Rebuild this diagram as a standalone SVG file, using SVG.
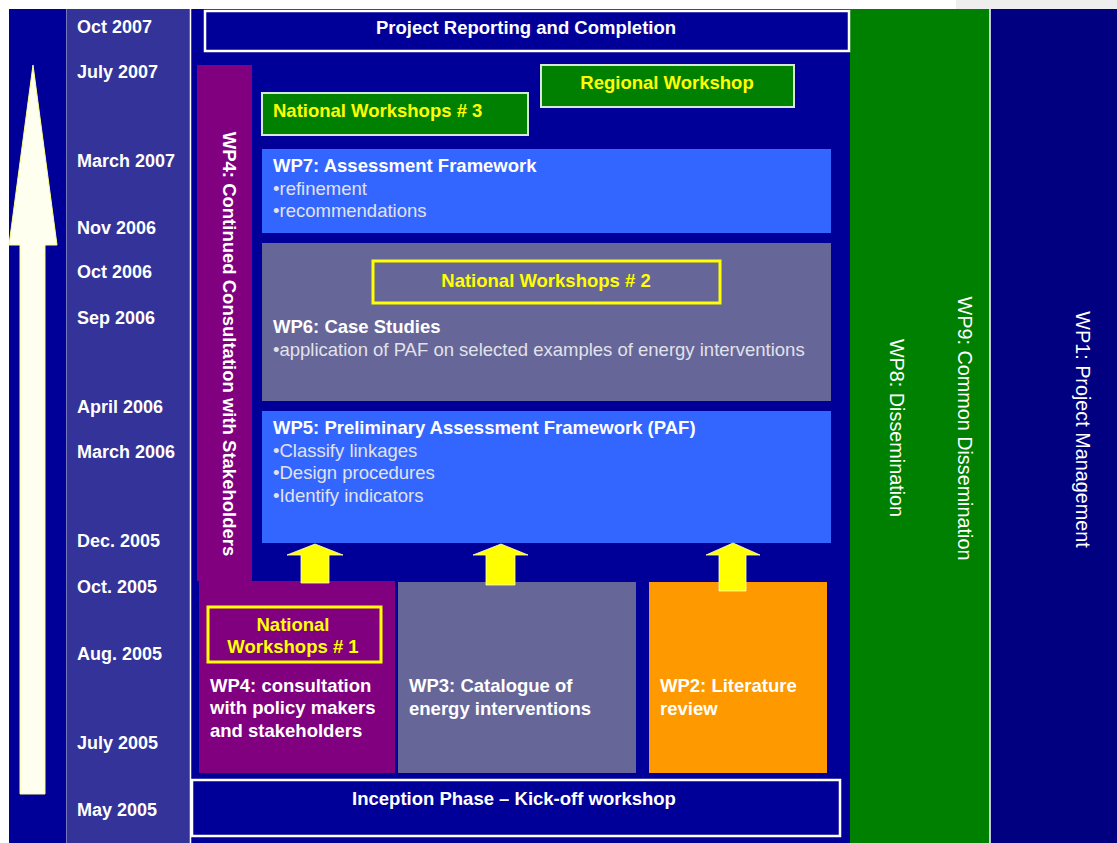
<svg xmlns="http://www.w3.org/2000/svg" width="1117" height="843" viewBox="0 0 1117 843">
  <style>
    .t { font-family: "Liberation Sans", Arial, sans-serif; font-weight: bold; font-size: 18.5px; fill: #ffffff; }
    .date { font-size: 18px; }
    .bul { font-weight: normal; fill: #e2e2ea; }
    .side { font-weight: normal; font-size: 19.8px; }
    .yel { fill: #ffff00; }
    .mid { text-anchor: middle; }
    .frame { fill: #000099; stroke: #ffffff; stroke-width: 2.5; }
    .ylbox { fill: none; stroke: #ffff00; stroke-width: 3; }
    .grbox { fill: #008000; stroke: #d8e8d8; stroke-width: 2; }
    .blue { fill: #3366ff; }
    .grey { fill: #666699; }
    .uparrow { fill: #ffff00; stroke: #ffffcc; stroke-width: 0.8; }
  </style>

  <!-- page margin -->
  <rect x="0" y="0" width="1117" height="843" fill="#ffffff"/>
  <rect x="956" y="0" width="161" height="9" fill="#eeeeee"/>

  <!-- background columns -->
  <g id="columns">
    <rect x="9" y="9" width="57" height="834" fill="#000099"/>
    <rect x="66" y="9" width="124" height="834" fill="#333399"/>
    <rect x="190" y="9" width="660" height="834" fill="#000099"/>
    <rect x="850" y="9" width="140" height="834" fill="#008000"/>
    <rect x="990" y="9" width="127" height="834" fill="#000080"/>
    <line x1="66.5" y1="9" x2="66.5" y2="843" stroke="#7777bb" stroke-width="1"/>
    <line x1="190.5" y1="9" x2="190.5" y2="843" stroke="#ffffff" stroke-width="1.5"/>
    <line x1="990" y1="9" x2="990" y2="843" stroke="#ffffff" stroke-width="1.5"/>
  </g>

  <!-- time axis -->
  <g id="time-arrow">
    <polygon points="33,65 57,245 45,245 45,794 20,794 20,245 9,245" fill="#fffff0" stroke="#ffff88" stroke-width="1"/>
  </g>
  <g id="dates" class="t date">
    <text x="77" y="33">Oct 2007</text>
    <text x="77" y="78">July 2007</text>
    <text x="77" y="167">March 2007</text>
    <text x="77" y="234">Nov 2006</text>
    <text x="77" y="278">Oct 2006</text>
    <text x="77" y="324">Sep 2006</text>
    <text x="77" y="413">April 2006</text>
    <text x="77" y="458">March 2006</text>
    <text x="77" y="547">Dec. 2005</text>
    <text x="77" y="593">Oct. 2005</text>
    <text x="77" y="660">Aug. 2005</text>
    <text x="77" y="749">July 2005</text>
    <text x="77" y="816">May 2005</text>
  </g>

  <!-- completion -->
  <g id="completion">
    <rect class="frame" x="205" y="11" width="644" height="40"/>
    <text class="t mid" x="526" y="34">Project Reporting and Completion</text>
  </g>

  <!-- WP4 stakeholder consultation (strip + first phase) -->
  <g id="wp4">
    <path d="M197,65 H252 V581 H395 V773 H199 V581 H197 Z" fill="#800080"/>
    <text class="t mid" transform="translate(229,344) rotate(90)" x="0" y="6.5">WP4: Continued Consultation with Stakeholders</text>
    <rect class="ylbox" x="208" y="607" width="173" height="55"/>
    <text class="t yel mid" x="293" y="631">National</text>
    <text class="t yel mid" x="293" y="653">Workshops # 1</text>
    <text class="t" x="210" y="692">WP4: consultation</text>
    <text class="t" x="210" y="714">with policy makers</text>
    <text class="t" x="210" y="737">and stakeholders</text>
  </g>

  <g id="national-3">
    <rect class="grbox" x="262" y="93" width="266" height="42"/>
    <text class="t yel" x="273" y="117">National Workshops # 3</text>
  </g>

  <g id="regional">
    <rect class="grbox" x="541" y="65" width="253" height="42"/>
    <text class="t yel mid" x="667" y="89">Regional Workshop</text>
  </g>

  <g id="wp7">
    <rect class="blue" x="262" y="149" width="569" height="84"/>
    <text class="t" x="273" y="172">WP7: Assessment Framework</text>
    <text class="t bul" x="273" y="195">•refinement</text>
    <text class="t bul" x="273" y="217">•recommendations</text>
  </g>

  <g id="wp6">
    <rect class="grey" x="262" y="243" width="569" height="158"/>
    <rect class="ylbox" x="373" y="261" width="347" height="42"/>
    <text class="t yel mid" x="546" y="287">National Workshops # 2</text>
    <text class="t" x="273" y="333">WP6: Case Studies</text>
    <text class="t bul" x="273" y="356">•application of PAF on selected examples of energy interventions</text>
  </g>

  <g id="wp5">
    <rect class="blue" x="262" y="411" width="569" height="132"/>
    <text class="t" x="273" y="434">WP5: Preliminary Assessment Framework (PAF)</text>
    <text class="t bul" x="273" y="457">•Classify linkages</text>
    <text class="t bul" x="273" y="479">•Design procedures</text>
    <text class="t bul" x="273" y="502">•Identify indicators</text>
  </g>

  <g id="wp3">
    <rect class="grey" x="398" y="582" width="238" height="191"/>
    <text class="t" x="409" y="692">WP3: Catalogue of</text>
    <text class="t" x="409" y="715">energy interventions</text>
  </g>

  <g id="wp2">
    <rect x="649" y="582" width="178" height="191" fill="#ff9900"/>
    <text class="t" x="660" y="692">WP2: Literature</text>
    <text class="t" x="660" y="715">review</text>
  </g>

  <g id="inception">
    <rect class="frame" x="192" y="780" width="648" height="56"/>
    <text class="t mid" x="514" y="805">Inception Phase – Kick-off workshop</text>
  </g>

  <g id="wp8">
    <text class="t side mid" transform="translate(897,428) rotate(90)" x="0" y="7">WP8: Dissemination</text>
  </g>
  <g id="wp9">
    <text class="t side mid" transform="translate(965,428.5) rotate(90)" x="0" y="7">WP9: Common Dissemination</text>
  </g>
  <g id="wp1">
    <text class="t side mid" transform="translate(1083,429.5) rotate(90)" x="0" y="7">WP1: Project Management</text>
  </g>

  <!-- flows from the first phase into WP5 -->
  <g id="connectors">
    <polygon class="uparrow" points="315,544 343,555 329,555 329,583 301,583 301,555 287,555"/>
    <polygon class="uparrow" points="501,544 528,555 515,555 515,585 486,585 486,555 473,555"/>
    <polygon class="uparrow" points="733,543 760,555 746,555 746,591 719,591 719,555 706,555"/>
  </g>
</svg>
